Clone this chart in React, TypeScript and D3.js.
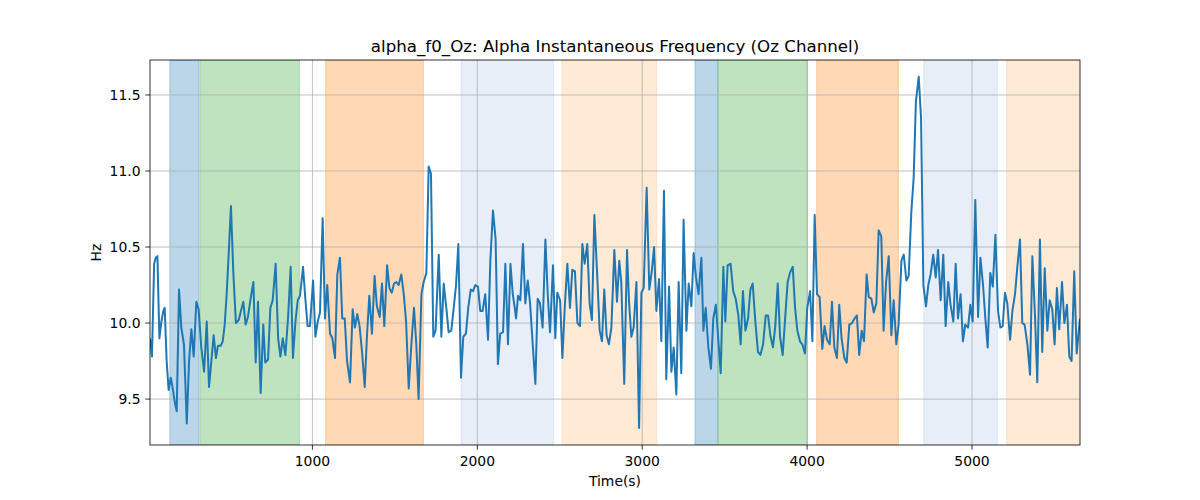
import React from 'react';
import * as d3 from 'd3';

// samples (seconds, Hz)
const timeSec = [
  15, 27, 40, 50, 60, 72, 84, 96, 104, 116, 128, 141, 153, 165, 177, 191, 205, 221, 238, 252,
  266, 280, 296, 310, 326, 343, 359, 373, 387, 401, 415, 427, 444, 456, 468, 480, 492, 506, 520, 536,
  553, 569, 581, 595, 609, 625, 642, 656, 670, 686, 702, 714,
  731, 745, 759, 777, 792, 806, 820, 836, 852, 868, 882, 897, 911, 925, 943, 957, 971, 985,
  1004, 1018, 1032, 1046, 1062, 1076, 1090, 1107, 1121, 1137, 1151, 1167, 1181, 1196, 1210, 1228,
  1244, 1258, 1272, 1286, 1301, 1317, 1331, 1345, 1361, 1377, 1391, 1408, 1422, 1436,
  1453, 1467, 1481, 1495, 1509, 1523, 1539, 1554, 1568, 1584, 1600, 1616, 1630, 1644, 1661, 1675,
  1691, 1705, 1719, 1733, 1747, 1766, 1782, 1796, 1812, 1826, 1842, 1857, 1871, 1885, 1901, 1915,
  1931, 1945, 1960, 1974, 1988, 2004, 2018, 2032, 2048, 2065, 2079, 2095, 2111, 2125, 2139, 2156,
  2170, 2186, 2201, 2215, 2227, 2235, 2247, 2261, 2277, 2291, 2306, 2320, 2336, 2352, 2366, 2380,
  2396, 2413, 2427, 2441, 2459, 2473, 2485, 2502, 2516, 2532, 2546, 2562, 2576, 2592, 2607, 2623,
  2637, 2651, 2667, 2681, 2695, 2710, 2726, 2742, 2756, 2770, 2784, 2798, 2813, 2831, 2847, 2861,
  2873, 2891,
  2908, 2920, 2934, 2948, 2965, 2981, 2995, 3009, 3027, 3043, 3058, 3072, 3086, 3102, 3116, 3132,
  3146, 3163, 3177, 3191, 3207, 3221, 3237, 3251, 3268, 3282, 3298, 3312, 3326, 3342, 3359, 3371,
  3385, 3401, 3417, 3431, 3447, 3462, 3476, 3492, 3504, 3518, 3536, 3552, 3567, 3583, 3597, 3611,
  3626, 3642, 3656, 3670, 3686, 3702, 3717, 3733, 3749, 3763, 3777, 3793, 3807, 3822, 3836, 3852,
  3868, 3882, 3896, 3913, 3927, 3941, 3957, 3971, 3987, 4001, 4018, 4032, 4046, 4060, 4076, 4092,
  4106, 4121, 4137, 4151, 4165, 4181, 4195, 4209, 4226, 4240, 4256, 4272, 4288, 4302, 4316, 4331,
  4345,
  4361, 4374, 4390, 4404, 4420, 4434, 4450, 4464, 4479, 4495, 4511, 4525, 4541, 4555, 4572, 4586,
  4602, 4616, 4632, 4646, 4660, 4677, 4691, 4705, 4721, 4735, 4749, 4765, 4780, 4794, 4810, 4826,
  4840, 4856, 4870, 4887, 4901, 4915, 4931, 4945, 4959, 4976, 4990, 5004,
  5020, 5037, 5051, 5067, 5081, 5095, 5111, 5126, 5142, 5158, 5172, 5186, 5200, 5214, 5231, 5245,
  5261, 5275, 5291, 5305, 5319, 5336, 5352, 5366, 5382, 5396, 5412, 5426, 5441, 5457, 5471, 5487,
  5501, 5515, 5529, 5546, 5560, 5576, 5590, 5604, 5620, 5635, 5655,
];

const alphaHz = [
  9.90, 9.78, 10.39, 10.43, 10.44, 9.90, 10.01, 10.08, 10.10, 9.75, 9.56, 9.64, 9.57, 9.48, 9.42, 10.22, 9.97, 9.86, 9.34, 9.75,
  9.96, 9.78, 10.14, 10.09, 9.84, 9.68, 10.01, 9.58, 9.75, 9.92, 9.77, 9.85, 9.85, 9.88, 9.99, 10.19, 10.45, 10.77, 10.34, 10.00,
  10.02, 10.09, 10.14, 9.99, 10.04, 10.16, 10.27, 9.74, 10.14, 9.54, 9.99, 9.74,
  9.76, 10.10, 10.15, 10.39, 9.90, 9.78, 9.90, 9.79, 10.03, 10.37, 9.77, 10.01, 10.15, 10.18, 10.37, 10.16, 9.98, 9.98,
  10.28, 9.91, 10.01, 10.07, 10.69, 10.03, 10.25, 9.93, 9.90, 9.77, 10.32, 10.43, 10.03, 10.03, 9.75, 9.61,
  10.09, 9.97, 10.06, 9.98, 9.81, 9.58, 9.92, 10.18, 9.93, 10.31, 10.11, 10.04, 10.26, 9.98,
  10.38, 10.23, 10.20, 10.26, 10.27, 10.25, 10.32, 10.19, 10.01, 9.57, 9.86, 10.10, 9.86, 9.50, 10.19, 10.27,
  10.33, 11.03, 10.98, 9.91, 9.95, 10.45, 9.91, 10.26, 10.10, 9.94, 9.95, 10.10, 10.25, 10.52, 9.64, 9.91,
  9.93, 10.10, 10.22, 10.21, 10.25, 10.24, 10.08, 10.08, 10.19, 9.89, 10.41, 10.74, 10.55, 9.73, 9.93, 9.94,
  10.39, 9.86, 10.39, 10.19, 10.10, 10.03, 10.18, 10.15, 10.52, 10.13, 10.28, 10.13, 9.86, 9.60, 10.16, 10.13,
  9.97, 10.55, 10.19, 9.94, 10.38, 9.90, 10.20, 10.15, 9.77, 10.14, 10.39, 10.10, 10.35, 10.34, 10.00, 9.98,
  10.52, 10.39, 10.52, 10.13, 10.02, 10.71, 10.34, 9.95, 9.88, 10.22, 9.92, 9.86, 9.97, 10.48, 10.14, 10.41,
  10.27, 9.60,
  10.48, 10.14, 9.91, 9.97, 10.27, 9.31, 10.20, 10.23, 10.89, 10.22, 10.34, 10.50, 10.08, 10.29, 9.88, 10.87,
  9.63, 10.24, 9.68, 9.84, 9.53, 10.27, 9.67, 10.68, 9.95, 10.26, 10.11, 10.46, 10.30, 10.19, 10.43, 9.95,
  10.10, 9.84, 9.70, 10.03, 10.12, 9.88, 9.67, 10.37, 10.01, 10.38, 10.39, 10.21, 10.16, 10.05, 9.86, 10.21,
  9.95, 10.03, 10.22, 10.26, 10.01, 9.81, 9.79, 9.86, 10.05, 10.05, 9.92, 9.84, 9.98, 10.26, 9.91, 9.79,
  10.05, 10.27, 10.33, 10.37, 10.10, 9.95, 9.88, 9.86, 9.80, 10.10, 10.21, 9.88, 10.71, 10.19, 10.17, 9.83,
  9.98, 9.89, 9.86, 10.14, 9.84, 9.77, 10.12, 9.90, 9.77, 9.74, 9.99, 10.00, 10.03, 10.05, 9.79, 9.95,
  9.88,
  10.32, 10.17, 10.16, 10.07, 10.13, 10.61, 10.57, 9.95, 10.27, 10.44, 9.92, 10.15, 9.86, 9.99, 10.41, 10.45,
  10.28, 10.31, 10.73, 10.95, 11.46, 11.62, 11.35, 10.25, 10.11, 10.25, 10.32, 10.45, 10.30, 10.48, 10.15, 10.45,
  9.98, 10.27, 10.12, 10.01, 10.39, 10.03, 10.19, 9.88, 9.99, 9.97, 10.12, 10.01,
  10.81, 10.04, 10.43, 10.25, 10.03, 9.84, 10.33, 10.24, 10.58, 10.08, 9.97, 9.98, 10.20, 10.13, 9.89, 10.08,
  10.19, 10.37, 10.55, 10.00, 9.99, 9.86, 9.66, 10.44, 10.05, 9.61, 10.55, 9.81, 10.36, 9.95, 10.15, 10.09,
  9.86, 10.23, 9.96, 10.27, 10.00, 10.12, 9.78, 9.75, 10.34, 9.80, 10.03,
];

// shaded bands (seconds)
const bandStart = [135, 317, 1080, 1901, 2513, 3320, 3460, 4058, 4707, 5210];
const bandEnd = [310, 921, 1673, 2463, 3088, 3458, 4002, 4554, 5154, 5700];
const bandColor = [
  '#1f77b4', '#2ca02c', '#ff7f0e', '#aec7e8', '#ffbb78',
  '#1f77b4', '#2ca02c', '#ff7f0e', '#aec7e8', '#ffbb78',
];

const xTicks = [1000, 2000, 3000, 4000, 5000];
const yTicks = [9.5, 10.0, 10.5, 11.0, 11.5];

const W = 1200;
const H = 500;
const margin = { top: 60, right: 120, bottom: 55, left: 150 };
const font = '"DejaVu Sans", sans-serif';

const App: React.FC = () => {
  const x = d3.scaleLinear().domain([15, 5655]).range([margin.left, W - margin.right]);
  const y = d3.scaleLinear().domain([9.198, 11.73]).range([H - margin.bottom, margin.top]);

  const points = timeSec.map((t, i) => [t, alphaHz[i]] as [number, number]);
  const line = d3.line<[number, number]>()
    .x(d => x(d[0]))
    .y(d => y(d[1]));

  const [x0, x1] = x.range();
  const [yb, yt] = y.range();
  const fmtY = d3.format('.1f');

  return (
    <div style={{ position: 'absolute', left: 0, top: 0 }}>
      <svg width={W} height={H} style={{ display: 'block', background: '#fff' }} fontFamily={font}>
        <defs>
          <clipPath id="plot">
            <rect x={x0} y={yt} width={x1 - x0} height={yb - yt} />
          </clipPath>
        </defs>

        <g clipPath="url(#plot)">
          {bandStart.map((s, i) => (
            <rect
              key={i}
              x={x(s)}
              y={yt}
              width={x(bandEnd[i]) - x(s)}
              height={yb - yt}
              fill={bandColor[i]}
              fillOpacity={0.3}
              stroke={bandColor[i]}
              strokeOpacity={0.3}
              strokeWidth={1}
            />
          ))}
        </g>

        {/* grid */}
        {xTicks.map(t => (
          <line key={t} x1={x(t)} x2={x(t)} y1={yt} y2={yb} stroke="#b0b0b0" strokeWidth={0.8} />
        ))}
        {yTicks.map(t => (
          <line key={t} x1={x0} x2={x1} y1={y(t)} y2={y(t)} stroke="#b0b0b0" strokeWidth={0.8} />
        ))}

        <path
          d={line(points) || ''}
          fill="none"
          stroke="#1f77b4"
          strokeWidth={2}
          strokeLinejoin="round"
          clipPath="url(#plot)"
        />

        <rect x={x0} y={yt} width={x1 - x0} height={yb - yt} fill="none" stroke="#000" strokeWidth={0.8} />

        {/* x axis */}
        {xTicks.map(t => (
          <g key={t}>
            <line x1={x(t)} x2={x(t)} y1={yb} y2={yb + 4.7} stroke="#000" strokeWidth={0.8} />
            <text x={x(t)} y={yb + 20.5} fontSize={13.9} textAnchor="middle" fill="#000">{t}</text>
          </g>
        ))}
        {/* y axis */}
        {yTicks.map(t => (
          <g key={t}>
            <line x1={x0 - 4.7} x2={x0} y1={y(t)} y2={y(t)} stroke="#000" strokeWidth={0.8} />
            <text x={x0 - 9.5} y={y(t) + 5} fontSize={13.9} textAnchor="end" fill="#000">{fmtY(t)}</text>
          </g>
        ))}

        <text x={(x0 + x1) / 2} y={486} fontSize={13.9} textAnchor="middle" fill="#000">Time(s)</text>
        <text
          transform={`translate(101,${(yt + yb) / 2}) rotate(-90)`}
          fontSize={13.9}
          textAnchor="middle"
          fill="#000"
        >Hz</text>
        <text x={(x0 + x1) / 2} y={51.5} fontSize={16.67} textAnchor="middle" fill="#000">
          alpha_f0_Oz: Alpha Instantaneous Frequency (Oz Channel)
        </text>
      </svg>
    </div>
  );
};

export default App;
